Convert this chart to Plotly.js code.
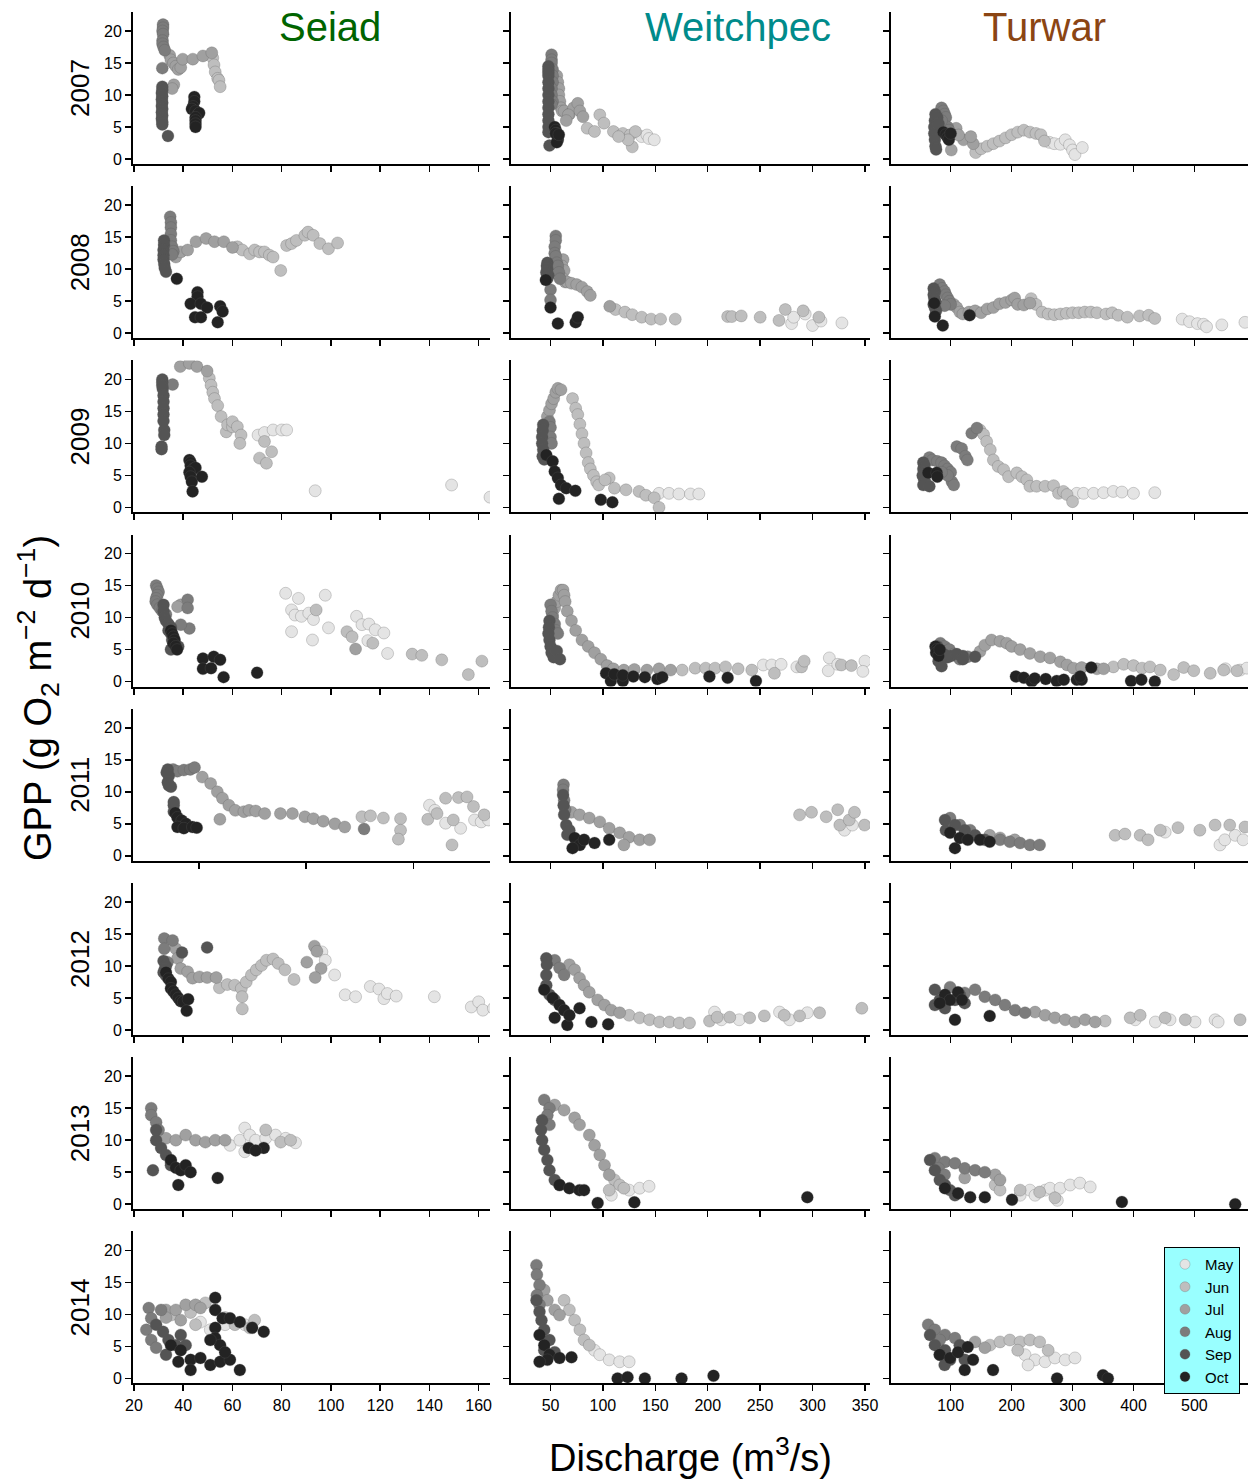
<!DOCTYPE html>
<html><head><meta charset="utf-8">
<script src="https://cdn.plot.ly/plotly-3.0.1.min.js"></script>
<style>body{margin:0;background:#fff}#plot{width:1248px;height:1481px}</style>
</head><body><div id="plot"></div>
<script>
// ---- Data: each point is [month, discharge (m3/s), GPP (g O2 m-2 d-1)] ----
const sites = ['Seiad','Weitchpec','Turwar'];
const years = ['2007','2008','2009','2010','2011','2012','2013','2014'];
const monthNames = ['May','Jun','Jul','Aug','Sep','Oct'];
const monthNums = [5,6,7,8,9,10];

const seiad2007 = [
[6,52,15.8],[6,52.5,14.7],[6,53,13.6],[6,54,12.6],[6,54.5,12.3],[6,55,11.3],
[7,34.5,16.2],[7,35,15.5],[7,36,15],[7,37,14.5],[7,38,14],[7,39,14.3],[7,39.8,15.6],[7,43.9,15.6],[7,48,16.1],[7,51.6,16.6],[7,36.2,11.6],[7,35.5,11],
[8,31.8,21],[8,31.8,20.5],[8,31.6,20],[8,31.8,19.5],[8,31.6,18.5],[8,31.6,18],[8,32,17.5],[8,32.5,17],[8,31.5,14.2],
[9,31.5,11.3],[9,31.5,10.8],[9,31.3,10.3],[9,31.5,9.8],[9,31.3,9.3],[9,31.5,8.8],[9,31.3,8.3],[9,31.5,7.8],[9,31.3,7.3],[9,31.5,6.8],[9,31.3,6.3],[9,31.5,5.8],[9,31.5,5.4],[9,33.8,3.6],
[10,44.5,9.7],[10,44.5,9],[10,44,8.2],[10,43.5,7.8],[10,45,7.5],[10,46,7],[10,46.5,7.2],[10,45,6.5],[10,45,6],[10,45,5.5],[10,45,5]];
const weitchpec2007 = [
[5,137,3.5],[5,142,3.75],[5,144,3.2],[5,149,3.0],
[6,97,6.9],[6,85,4.8],[6,92,4.3],[6,101,5.6],[6,110,4.3],[6,119,4],[6,126,3.75],[6,131,4.3],[6,128,1.9],[6,124,3.0],[6,115,3.5],
[7,56,13],[7,57,12],[7,58,11],[7,58,10],[7,59,9],[7,60,8],[7,61,7.5],[7,63,7.5],[7,68,7],[7,72,8],[7,76,8.7],[7,78,7.5],[7,67,6.9],[7,81,6.6],[7,65,6],
[8,51,16.3],[8,51,15.5],[8,51,15],[8,52,14],[8,52,13],[8,52,12],[8,51,11],[8,51,10],[8,52,9],[8,51,8.5],
[9,48,14.5],[9,48,14],[9,48,13.5],[9,48,13],[9,48,12],[9,48,11],[9,48,10],[9,48,9],[9,48,8],[9,48,7],[9,48,6],[9,48,5],[9,48,4.2],[9,49,2.1],
[10,54,5],[10,55,4.5],[10,56,4],[10,57,3.5],[10,57,3],[10,56,2.6],[10,55,4],[10,58,3.8]];
const turwar2007 = [
[5,262,2.6],[5,270,2.4],[5,280,2.3],[5,288,3.0],[5,295,2.2],[5,300,1.4],[5,304,0.7],[5,316,1.8],
[6,141,1.0],[6,150,1.6],[6,160,2.0],[6,170,2.4],[6,180,2.8],[6,190,3.3],[6,200,3.8],[6,210,4.2],[6,220,4.5],[6,230,4.2],[6,240,4],[6,248,3.8],[6,254,2.8],
[7,109,4.8],[7,101,1.4],[7,121,3],[7,137,2.4],[7,113,3.75],[7,133,3.5],
[8,85,8],[8,88,7.5],[8,90,7],[8,92,6.5],[8,95,5],[8,97,4.5],[8,85,6],[8,90,4],
[9,75,7],[9,74,6],[9,73,5],[9,73,4],[9,74,3],[9,75,2],[9,76,1.5],[9,78,6.5],[9,80,5.5],
[10,88,4.2],[10,92,3.8],[10,95,3.4],[10,97,3.0],[10,100,4]];

const seiad2008 = [
[6,62,13.5],[6,64,13],[6,67,12.4],[6,69,13],[6,71,12.7],[6,73,12.7],[6,75,12.2],[6,76.5,11.9],[6,79.6,9.8],[6,82,13.7],[6,84,14],[6,86,14.5],[6,89.4,15.3],[6,90.7,15.8],[6,92.8,15.3],[6,95.5,14],[6,99,13.2],[6,102.7,14.1],
[7,37,11.9],[7,39,12.7],[7,41.8,13],[7,45.2,14.3],[7,49.3,14.8],[7,52.7,14.3],[7,56.5,14.3],[7,60,13.4],
[8,34.7,18.2],[8,35,17.3],[8,35,16.5],[8,35,15.5],[8,35,14.5],[8,35.5,13.5],[8,36,12.8],[8,35.5,12.3],
[9,32.2,14.5],[9,32.2,13.8],[9,32,13],[9,32,12.2],[9,32,11.5],[9,32.3,10.8],[9,32.5,10.2],[9,33,9.6],
[10,37.4,8.5],[10,45.8,6.4],[10,45.8,5.7],[10,43,4.6],[10,47.2,4.6],[10,49.7,4.0],[10,44.8,2.5],[10,47.2,2.5],[10,54,1.7],[10,55,4.2],[10,56,3.4]];
const weitchpec2008 = [
[5,280,1.5],[5,282,2.5],[5,293,3.0],[5,300,1.2],[5,308,1.9],[5,328,1.6],
[6,112,3.7],[6,121,3.3],[6,128,2.9],[6,137,2.5],[6,146,2.2],[6,155,2.2],[6,169,2.2],[6,219,2.6],[6,223,2.6],[6,232,2.7],[6,250,2.5],[6,268,2.0],[6,274,3.7],[6,291,3.5],[6,306,2.5],
[7,62,11.5],[7,61,10.5],[7,63,9.8],[7,62,8.5],[7,64,8],[7,66,8],[7,70,7.8],[7,75,7.6],[7,80,7.2],[7,85,6.5],[7,88,5.9],[7,106.5,4.2],
[8,55,15.2],[8,55,14.5],[8,54,13.5],[8,54,12.5],[8,55,12],[8,56,11],[8,57,10.5],[8,58,9.5],[8,59,8.5],[8,50,6.8],[8,50,5.2],
[9,47,11],[9,46.5,10.5],[9,47,10],[9,46,9.5],[9,48,9],[9,47,8.5],
[10,45.5,8.3],[10,50,4.0],[10,57,1.5],[10,74,1.7],[10,76,2.5]];
const turwar2008 = [
[5,480,2.2],[5,492,1.8],[5,505,1.5],[5,515,1.4],[5,520,1.0],[5,545,1.3],[5,583,1.7],
[6,232,5.4],[6,240,4.5],[6,250,3.3],[6,260,3.0],[6,270,2.9],[6,280,3.0],[6,290,3.1],[6,300,3.2],[6,310,3.2],[6,320,3.3],[6,330,3.3],[6,340,3.2],[6,355,3.0],[6,365,3.2],[6,375,2.8],[6,390,2.5],[6,410,2.7],[6,425,2.8],[6,435,2.3],
[7,105,4.5],[7,110,4],[7,115,3.3],[7,120,3],[7,130,3.3],[7,140,3.5],[7,150,3.2],[7,160,3.8],[7,170,4],[7,180,4.6],[7,190,4.8],[7,200,5.2],[7,205,5.5],[7,210,4.5],[7,220,4.4],[7,230,4.7],
[8,82,7.6],[8,86,7],[8,90,6.5],[8,92,6],[8,95,5.5],[8,98,5],[8,100,4.5],[8,90,4.3],
[9,72,7],[9,74,6.5],[9,72,6],[9,73,5.5],[9,75,5],[9,72,4.5],[9,74,4],[9,76,3.5],
[10,73,4.7],[10,74,2.6],[10,87,1.2],[10,131,2.8]];

const seiad2009 = [
[5,70.4,11.3],[5,73,11.7],[5,76.5,12.1],[5,80,12.1],[5,82,12.1],[5,93.6,2.6],[5,149,3.5],[5,164.6,1.6],
[6,50.6,20.2],[6,51.3,19.1],[6,52,18],[6,52.7,17],[6,54,15.9],[6,55.4,14.2],[6,57.5,11.8],[6,58,12.9],[6,60,12.6],[6,60,13.4],[6,62,12.6],[6,63.5,11.3],[6,63,10],[6,73,10.3],[6,75.9,8.7],[6,71,7.7],[6,73.8,6.9],
[7,38.8,22],[7,42.5,22.5],[7,45.6,22],[7,49.7,21.3],
[8,35.7,19.2],
[9,31.5,20],[9,31.5,19.5],[9,31.5,19],[9,31.7,18.5],[9,32,17.5],[9,32,16.5],[9,32,15.5],[9,32,14.5],[9,32,13.5],[9,32.3,12.1],[9,32.3,11.3],[9,31.2,9.5],[9,31.2,9.1],
[10,42.5,7.4],[10,43,7],[10,43,6.5],[10,44,6],[10,45,6.2],[10,42.5,5.5],[10,43,4.8],[10,43.5,4.0],[10,47.6,4.8],[10,43.8,2.5]];
const weitchpec2009 = [
[5,153.5,2.2],[5,163,2.2],[5,172.5,2.1],[5,183.5,2.1],[5,191.5,2.1],
[6,71,17],[6,74,15.5],[6,76,14.5],[6,78,13],[6,80,11.5],[6,82,10],[6,84,8.5],[6,86,7],[6,88,6],[6,91,5],[6,94,4],[6,96,3.5],[6,106,4.6],[6,102,4.3],[6,111,3.0],[6,122,2.75],[6,134.5,2.5],[6,141,1.9],[6,149,1.5],[6,153.5,0],
[7,47,14.2],[7,49,15.2],[7,51,16.2],[7,53,17],[7,55,18],[7,57,18.6],[7,60,18.4],
[8,49,13.4],[8,50,12.5],[8,50,11],[8,51,10],
[9,43,12.9],[9,42.5,12],[9,42,11],[9,42,10],[9,43,9],[9,42.5,8],[9,44,7.5],
[10,46,8.2],[10,52,7.2],[10,54,5.6],[10,57,4.6],[10,60,3.5],[10,65,3.0],[10,73.7,2.6],[10,58,1.35],[10,98,1.2],[10,109,0.8]];
const turwar2009 = [
[5,307,2.2],[5,318,2.2],[5,334.5,2.2],[5,351,2.3],[5,367,2.5],[5,381,2.4],[5,400,2.2],[5,435,2.3],
[6,148,12.1],[6,154,11.4],[6,159,10.3],[6,165,9.0],[6,170,7.4],[6,178,6.4],[6,187,5.9],[6,195,4.8],[6,208.5,5.4],[6,217,4.8],[6,225,4.3],[6,230,3.3],[6,241,3.3],[6,255,3.3],[6,269,3.4],[6,277,2.2],[6,285,2.5],[6,291,2.0],[6,300,0.9],
[8,65,7.8],[8,70,7.4],[8,78,7.2],[8,85,7],[8,90,6.5],[8,95,6],[8,100,5.5],[8,102,4.0],[8,105,3.5],[8,95,5],[8,85,5.5],[8,110,9.5],[8,118,9.2],[8,124,8.0],[8,127.4,7.4],[8,134.5,11.6],[8,143,12.4],
[9,55,7],[9,57,6.5],[9,55,6],[9,58,5.5],[9,54,5],[9,56,4.5],[9,58,4],[9,55,3.5],[9,65,3.3],
[10,63,5.4],[10,77,5.4],[10,78,4.8]];

const seiad2010 = [
[5,81.6,13.8],[5,86.8,13.0],[5,84,11.2],[5,85.4,10.4],[5,88,10.2],[5,91,10.7],[5,92.9,9.7],[5,97.7,13.5],[5,99,8.4],[5,84,7.8],[5,92.5,6.5],[5,110.4,10.2],[5,112.6,8.9],[5,115.4,9.0],[5,118,8.1],[5,121.5,7.6],[5,115,6.4],[5,123,4.4],
[6,94,11.2],[6,106.5,7.8],[6,108.6,7.0],[6,117,6.0],[6,133,4.3],[6,136.9,4.1],[6,145,3.4],[6,155.8,1.1],[6,161.3,3.2],
[7,110,5.1],[7,39,12],[7,37.7,11.7],
[8,29,15],[8,29.5,14.5],[8,30,14],[8,29.5,13.5],[8,29,13],[8,28.8,12.5],[8,29.5,12],[8,30.5,11.5],[8,31.5,11],[8,33,10.5],[8,41.8,12.8],[8,41.8,11.5],[8,42.5,8.3],[8,39,8.9],
[9,32,12],[9,32,11],[9,32.5,10],[9,33,9.5],[9,34,9],[9,35,8.5],[9,34,8],[9,35,7.5],[9,35.5,6.5],[9,36,6],[9,35,5],[9,38,5.5],
[10,35,8],[10,35.5,7.5],[10,36,7],[10,36.5,6.5],[10,36,6],[10,37,5.5],[10,37.5,5],[10,48,3.6],[10,48,2.0],[10,51.3,2.1],[10,52.4,3.9],[10,55,3.4],[10,56.4,0.7],[10,70,1.4]];
const weitchpec2010 = [
[5,253,2.6],[5,261,2.6],[5,270,2.7],[5,285,2.3],[5,316,3.7],[5,315,1.7],[5,350,3.2],[5,348,1.6],[5,324,2.7],
[6,175.6,1.8],[6,188,2.1],[6,198,2.1],[6,207,2.1],[6,217,2.3],[6,229,2.0],[6,242,1.8],[6,263.6,1.3],[6,289.5,2.3],[6,292,3.2],[6,327.5,2.6],[6,337,2.5],
[7,52,10.4],[7,54,11.5],[7,56,12.5],[7,58,13.5],[7,60,14.3],[7,62,14.3],[7,63,13.5],[7,64,12.5],[7,66,11],[7,70,9.5],[7,74,8],[7,80,6.5],[7,86,5.5],[7,92,4.5],[7,98,3.5],[7,104,2.5],[7,110,2],[7,120,1.8],[7,130,1.9],[7,142,1.8],[7,153.5,2.0],[7,164.6,1.8],
[8,50,12],[8,51,11],[8,52,10],[8,54,9],[8,55,8],[8,57,7.5],
[9,49,9.5],[9,48.5,8.5],[9,48,7.5],[9,49,6.5],[9,50,5.5],[9,51,4.5],[9,53,3.8],[9,56,4.8],[9,59,3.5],
[10,103,1.3],[10,107.6,0.1],[10,110.8,1.15],[10,119,0.1],[10,119,1.0],[10,129,0.8],[10,140,0.7],[10,152,0.4],[10,156.6,0.7],[10,201.6,0.8],[10,219,0.6],[10,246,0.1]];
const turwar2010 = [
[5,551,2.0],[5,575,1.8],[5,586,2.1],
[6,367,2.3],[6,384,2.7],[6,400,2.5],[6,414,2.1],[6,427,2.3],[6,444,1.8],[6,466,1.1],[6,482.5,2.2],[6,499,1.7],[6,526,1.3],[6,548,1.8],[6,570,1.7],
[7,148,4.7],[7,156,5.7],[7,167,6.5],[7,181,6.3],[7,192,6.0],[7,200,5.5],[7,214,5.0],[7,230,4.4],[7,247,3.9],[7,263,3.7],[7,280,3.1],[7,291,2.6],[7,301.6,2.1],[7,315,2.2],[7,340,2.0],[7,351,2.0],
[8,83,6],[8,90,5.5],[8,98,5],[8,105,4.3],[8,110,4],[8,115,3.5],[8,122,3.7],[8,128,3.9],
[9,78,5.5],[9,82,4.8],[9,85,4.5],[9,90,4.2],[9,95,3.8],[9,100,4.0],[9,110,4.3],[9,120,4.0],[9,120,3.5],[9,80,3.2],[9,85,2.4],[9,140,3.9],
[10,75,5.5],[10,77,5],[10,76,4.5],[10,80,4],[10,82,5],[10,207,0.8],[10,220,0.6],[10,233,0],[10,238,0.5],[10,256,0.4],[10,274,0.1],[10,285.7,0.3],[10,307,0.3],[10,315,0.3],[10,312.6,0.8],[10,330.7,2.2],[10,396,0.1],[10,413,0.3],[10,435,0]];

const seiad2011 = [
[5,157.5,7.9],[5,165,5.1],[5,172,4.3],[5,178.5,5.6],[5,181.6,5.3],[5,185,5.6],[5,160,7.1],
[6,126,6.1],[6,130,6.25],[6,136,5.9],[6,144,5.8],[6,144,4.0],[6,143,2.6],[6,156.7,5.7],[6,165,9.0],[6,171,9.1],[6,175,9.2],[6,168,1.7],[6,161,6.6],[6,168.6,5.6],[6,178,7.7],[6,183,6.4],
[7,51.6,12.3],[7,55.5,11.3],[7,58.6,10],[7,61,9],[7,64,7.9],[7,67,7.1],[7,71,6.9],[7,73.4,7.1],[7,76.5,7.0],[7,80.7,6.6],[7,88,6.6],[7,93.6,6.6],[7,99.4,6.1],[7,103.4,5.8],[7,108,5.4],[7,113.4,5.0],[7,118,4.5],[7,59.8,5.7],
[8,38,13.5],[8,40,13.2],[8,43,13.4],[8,46,13.5],[8,48,13.8],[8,127,4.2],
[9,35.5,13.5],[9,35,13],[9,36,12.5],[9,35.5,11.5],[9,36,11],[9,37,10.8],[9,38.3,8.4],[9,38.3,7.9],[9,38.3,6.9],
[10,39,6.7],[10,40,6],[10,42,5.5],[10,44,5],[10,40,4.5],[10,43,4.3],[10,47,4.5],[10,49,4.4]];
const weitchpec2011 = [
[5,330.5,4.0],[5,338,4.8],
[6,287.6,6.4],[6,299,6.8],[6,313,6.1],[6,326,4.8],[6,335,5.6],[6,324,7.2],[6,349.6,4.8],[6,340,6.8],
[7,70,6.8],[7,77.7,6.4],[7,87,5.9],[7,97,5.3],[7,106,4.3],[7,116,3.6],[7,125,2.9],[7,135,2.5],[7,144.5,2.5],[7,120,1.7],
[8,62.4,11.1],[8,62,10.3],[8,63,8.7],[8,64,7.2],
[9,62,9.5],[9,62.5,7.9],[9,63,6.4],[9,65,4.8],[9,66,3.3],[9,68,4.0],
[10,73,2.8],[10,78,1.7],[10,71,1.2],[10,82,2.5],[10,92,2.0],[10,106,2.5]];
const turwar2011 = [
[5,452,3.7],[5,542,1.7],[5,550,2.5],[5,567,3.2],[5,580,2.5],
[6,370,3.2],[6,386,3.4],[6,411,3.2],[6,424,2.5],[6,444,4.0],[6,473,4.4],[6,509,4.0],[6,534,4.8],[6,558,4.8],[6,583,4.5],
[7,164,3.2],[7,181,2.8],[7,205,2.5],
[8,99,5.9],[8,115,4.8],[8,132,4.0],[8,181,2.5],[8,197,2.2],[8,214,2.0],[8,230,1.7],[8,246,1.7],
[9,90.6,5.6],[9,92,4.0],[9,107,4.8],[9,123,4.0],[9,140,3.2],[9,156,2.5],
[10,99,3.6],[10,107,1.2],[10,115,2.8],[10,128,2.5],[10,148,2.5],[10,164,2.2]];

const seiad2012 = [
[5,96.3,12.2],[5,97.7,10.9],[5,101.5,8.6],[5,105.8,5.5],[5,110,5.2],[5,116,6.8],[5,119.5,6.4],[5,121.5,4.9],[5,122.9,5.7],[5,126.5,5.3],[5,142,5.2],[5,157,3.6],[5,160,4.4],[5,161.7,3.1],[5,166,3.4],
[6,54.7,6.6],[6,57.9,7.1],[6,60.9,7.0],[6,63.6,6.5],[6,63.9,5.2],[6,64,3.3],[6,65.6,7.5],[6,67.7,8.6],[6,69.7,9.4],[6,71.8,10.1],[6,73.8,10.9],[6,76.5,11.1],[6,78.6,10.4],[6,81.3,9.4],[6,85,7.9],
[7,37,12.7],[7,37.7,11.2],[7,39,9.6],[7,41.8,9.1],[7,43.8,8.1],[7,46.6,8.3],[7,49.7,8.2],[7,53.4,8.2],[7,90.2,10.6],[7,93.3,13.1],[7,94.3,12.3],[7,96,9.6],[7,93.6,8.2],
[8,32.3,14.3],[8,35.7,14.0],[8,32.3,12.7],[8,33.6,10.6],
[9,32,10.8],[9,33,10],[9,32.5,9.5],[9,32,9],[9,33,8.5],[9,49.7,12.9],[9,39.5,12.1],
[10,33,9],[10,34,8],[10,35,7.5],[10,35,6.5],[10,36,6],[10,37,5.5],[10,38,5],[10,39,4.5],[10,40,4.4],[10,42,4.8],[10,41.4,3.0]];
const weitchpec2012 = [
[5,206.5,2.8],[5,213,1.6],[5,230,1.6],[5,268.5,2.8],[5,295,2.7],[5,278,1.6],
[6,125,2.3],[6,135,1.9],[6,144.5,1.6],[6,154,1.25],[6,163.5,1.25],[6,173,1.1],[6,182.6,1.1],[6,201.7,1.4],[6,209,2.0],[6,221,2.0],[6,240,1.9],[6,254,2.2],[6,273,2.3],[6,287.6,2.2],[6,306.7,2.7],[6,347,3.4],
[7,68,10.2],[7,73,9.4],[7,77.7,8.1],[7,82,7.0],[7,87,5.9],[7,95,4.7],[7,101.5,3.9],[7,108,3.1],[7,116,2.7],
[8,54,10.9],[8,58.6,9.7],[8,63,8.6],
[9,46,11.2],[9,46.5,10.2],[9,46,8.6],[9,46,7.0],[9,49,5.5],[9,54,4.7],
[10,44,6.3],[10,52,5.0],[10,58.6,3.9],[10,63,3.1],[10,66,0.8],[10,68,2.3],[10,77.7,3.4],[10,89,1.25],[10,105,0.9],[10,54,1.9]];
const turwar2012 = [
[5,403,1.6],[5,436,1.25],[5,460,1.6],[5,501,1.25],[5,534,1.6],[5,539,1.25],
[6,353.5,1.4],[6,394.6,1.9],[6,411,2.3],[6,452,1.9],[6,485,1.6],[6,575,1.6],
[7,238.5,2.8],[7,255,2.3],[7,271,1.9],[7,288,1.6],[7,304,1.25],[7,320.6,1.6],[7,337,1.25],
[8,99,6.7],[8,123,5.8],[8,140,6.3],[8,156,5.2],[8,173,4.7],[8,189,3.9],[8,205.6,3.1],[8,222,2.7],
[9,74,6.3],[9,82,4.7],[9,74,3.9],[9,90.6,3.4],[9,107,4.7],[9,115,5.5],[9,123,4.2],
[10,90.6,5.5],[10,99,4.7],[10,112,5.9],[10,107,1.6],[10,164,2.2],[10,82,4.2],[10,118.5,4.7]];

const seiad2013 = [
[5,59,9.2],[5,63,10.0],[5,65,11.9],[5,67,10.8],[5,69.4,10.0],[5,65,8.2],[5,73.5,10.3],[5,77.5,10.8],[5,81.6,10.3],[5,85.6,9.6],
[6,73.5,11.6],[6,79.6,9.7],[6,83.6,10.0],
[7,33,10.3],[7,37,10.0],[7,41,10.8],[7,45,10.0],[7,49,9.7],[7,53,10.0],[7,57,10.0],
[8,27,15],[8,27,13.9],[8,29,12.8],[8,30,11.6],
[9,29,11.6],[9,29,10.0],[9,31,8.8],[9,33,7.7],[9,35,6.6],[9,27.7,5.3],[9,35,6.1],
[10,35,6.9],[10,37,5.7],[10,39,5.3],[10,38,3.0],[10,41,6.1],[10,43,5.0],[10,54,4.1],[10,66.6,8.8],[10,72.7,8.8],[10,69.4,8.4]];
const weitchpec2013 = [
[5,125,2.2],[5,135,2.5],[5,144,2.8],[5,108,1.4],
[6,111,3.8],[6,116,3.0],[6,106,2.2],[6,120,2.5],
[7,54,15.5],[7,63,14.7],[7,73,13.5],[7,77.7,12.4],[7,87,10.8],[7,92,9.2],[7,97,7.7],[7,101.5,6.1],[7,106,4.6],
[8,44,16.3],[8,49,15.0],[8,47,13.9],[8,49,12.4],
[9,42,13.1],[9,41,11.6],[9,42,10.0],[9,44,8.5],[9,47,6.9],[9,49,5.3],[9,54,3.8],[9,58.6,3.0],
[10,58.6,3.0],[10,68,2.5],[10,77.7,2.2],[10,82,2.2],[10,95,0.2],[10,130,0.3],[10,295,1.1]];
const turwar2013 = [
[5,214,1.4],[5,230,2.2],[5,255,2.2],[5,275,0.6],[5,238.5,1.4],[5,263,2.5],[5,279.5,2.5],[5,296,3.0],[5,312,3.3],[5,329,2.7],
[6,173,3.0],[6,181,2.2],[6,214,2.2],[6,246,1.9],[6,271,1.0],
[7,173,4.6],[7,181,3.8],[7,123,4.1],
[8,74,7.2],[8,90.6,6.6],[8,107,6.4],[8,123,5.6],[8,140,5.3],[8,156,5.0],[8,80,5.6],[8,90,4.6],
[9,66,6.9],[9,74,5.3],[9,82,3.8],[9,90.6,3.0],[9,99,2.2],[9,107,1.4],
[10,90.6,2.5],[10,112,1.7],[10,132,1.1],[10,156,1.1],[10,200.6,0.7],[10,381,0.35],[10,567,0]];

const seiad2014 = [
[5,47,8.8],[5,51,7.6],[5,57,8.4],[5,65,8.4],
[6,35,9.9],[6,43,10.3],[6,49,11.8],[6,53,10.7],[6,57,9.5],[6,61,8.4],[6,67,7.9],[6,69,9.1],[6,45,8.4],
[7,33,10.7],[7,37,10.7],[7,41,11.5],[7,45,11.5],[7,47,11.0],[7,39,9.1],[7,33,9.5],
[8,26,11.0],[8,27,9.4],[8,25,7.6],[8,27,6.0],[8,29,4.8],[8,31,10.7],
[9,29,8.4],[9,31.8,7.3],[9,34,6.0],[9,37,5.2],[9,33,3.7],[9,39,6.8],[9,41,5.2],
[10,35,5.2],[10,39,4.4],[10,38,2.6],[10,43,2.9],[10,47,3.2],[10,51,2.1],[10,55,2.6],[10,59,2.9],[10,63,1.3],[10,43,1.3],[10,53,12.6],[10,53,10.7],[10,53,7.9],[10,53,6.3],[10,56,9.4],[10,59,9.4],[10,63,8.8],[10,68,7.9],[10,72.7,7.3],[10,55,5.2],[10,51,6.0],[10,57,4.1]];
const weitchpec2014 = [
[5,92,4.4],[5,97,3.7],[5,106,2.9],[5,116,2.6],[5,125,2.6],
[6,63,12.2],[6,68,10.7],[6,73,9.1],[6,78,7.6],[6,82,6.0],[6,87,5.2],
[7,44,13.8],[7,47,12.2],[7,54,10.7],[7,58.6,9.9],
[8,36.6,17.7],[8,37,16.2],[8,39.5,14.6],[8,37,13.0],[8,39.5,11.5],
[9,36.6,12.2],[9,39.5,10.4],[9,41.4,9.1],[9,44,7.6],[9,49,6.0],[9,44,4.4],[9,54,4.1],
[10,39.5,6.8],[10,44,5.2],[10,49,3.7],[10,47,2.9],[10,39.5,2.6],[10,58.6,3.2],[10,70,3.3],[10,114,0],[10,123.5,0.2],[10,140,0],[10,175,0],[10,205.5,0.4]];
const turwar2014 = [
[5,222,3.7],[5,238.5,2.9],[5,255,2.6],[5,271,3.2],[5,288,2.9],[5,304,3.2],[5,227,2.1],
[6,164.5,5.2],[6,181,5.7],[6,197,6.0],[6,214,5.7],[6,230,6.0],[6,246,5.7],[6,260,4.4],[6,210,4.4],
[7,140,5.7],[7,156,4.8],[7,115,5.2],
[8,63,8.4],[8,74,7.6],[8,90.6,6.8],[8,107,6.3],[8,82,6.0],
[9,66,6.8],[9,74,5.2],[9,82,3.7],[9,90.6,4.4],[9,99,2.9],[9,115,5.2],[9,123,2.9],[9,90,2.1],
[10,82,3.7],[10,99,3.2],[10,112,4.1],[10,128,4.9],[10,136.6,2.9],[10,123,1.3],[10,169.5,1.3],[10,274.6,0],[10,350,0.5],[10,358,0]];

const seiadTicks = [20,40,60,80,100,120,140,160];
const seiad2011Ticks = [50,100,150];
const weitchpecTicks = [50,100,150,200,250,300,350];
const turwarTicks = [100,200,300,400,500];
const gppTicks = [0,5,10,15,20];

// ---- Layout / styling ----
const panels = [
 [seiad2007, weitchpec2007, turwar2007],
 [seiad2008, weitchpec2008, turwar2008],
 [seiad2009, weitchpec2009, turwar2009],
 [seiad2010, weitchpec2010, turwar2010],
 [seiad2011, weitchpec2011, turwar2011],
 [seiad2012, weitchpec2012, turwar2012],
 [seiad2013, weitchpec2013, turwar2013],
 [seiad2014, weitchpec2014, turwar2014]];

const W = 1248, H = 1481;
const FONT = 'Liberation Sans, Arial, Helvetica, sans-serif';
const monthColor = {5:'#E4E4E4',6:'#BEBEBE',7:'#A0A0A0',8:'#7C7C7C',9:'#545454',10:'#232323'};
const colPx = [[133,490],[511,870],[891,1248]];
const xRanges = [[19.6,164.6],[12.3,354.8],[2,588]];
const colTicks = [seiadTicks, weitchpecTicks, turwarTicks];
const yRange = [-0.78, 22.97];
const rowPitch = 174.2, rowTop0 = 12, rowBot0 = 164;
const siteColors = ['#006400','#008B8B','#8B4513'];
const siteTitleX = [330, 738, 1044];

const traces = [];
const layout = {
  width: W, height: H, margin:{l:0,r:0,t:0,b:0},
  paper_bgcolor:'#fff', plot_bgcolor:'rgba(0,0,0,0)',
  font:{family:FONT, color:'#000', size:16},
  showlegend:true,
  legend:{x:1240/W, y:1-1247/H, xanchor:'right', yanchor:'top', bgcolor:'#99FFFF',
          bordercolor:'#000', borderwidth:1, font:{family:FONT,size:15,color:'#000'},
          tracegroupgap:0, itemwidth:30},
  annotations:[]
};

for (let r=0;r<8;r++){
  for (let c=0;c<3;c++){
    const idx = r*3+c+1;
    const xa = 'xaxis'+(idx===1?'':idx), ya = 'yaxis'+(idx===1?'':idx);
    const xr = 'x'+(idx===1?'':idx), yr = 'y'+(idx===1?'':idx);
    const special = (r===4 && c===0);
    layout[xa] = {
      domain:[colPx[c][0]/W, colPx[c][1]/W], anchor: yr,
      range: special ? [19.3,185.7] : xRanges[c],
      tickmode:'array', tickvals: special ? seiad2011Ticks : colTicks[c],
      showticklabels: r===7, ticks:'outside', ticklen:6, tickwidth:1.5, tickcolor:'#000',
      showline:true, linecolor:'#000', linewidth:2, showgrid:false, zeroline:false,
      tickfont:{size:16, family:FONT, color:'#000'}, fixedrange:true
    };
    layout[ya] = {
      domain:[1-(rowBot0+r*rowPitch)/H, 1-(rowTop0+r*rowPitch)/H], anchor: xr,
      range: yRange, tickmode:'array', tickvals: gppTicks,
      showticklabels: c===0, ticks:'outside', ticklen:6, tickwidth:1.5, tickcolor:'#000',
      showline:true, linecolor:'#000', linewidth:2, showgrid:false, zeroline:false,
      tickfont:{size:16, family:FONT, color:'#000'}, fixedrange:true
    };
    const pts = panels[r][c];
    monthNums.forEach(m=>{
      const sel = pts.filter(p=>p[0]===m);
      if (!sel.length) return;
      traces.push({type:'scatter', mode:'markers', xaxis:xr, yaxis:yr, showlegend:false,
        x: sel.map(p=>p[1]), y: sel.map(p=>p[2]), hoverinfo:'skip',
        marker:{size:12, color:monthColor[m], line:{width:0.8, color:'rgba(90,90,90,0.35)'}}});
    });
  }
  layout.annotations.push({text:years[r], xref:'paper', yref:'paper', x:80/W,
    y:1-((rowTop0+rowBot0)/2 + r*rowPitch)/H, textangle:-90, showarrow:false,
    xanchor:'center', yanchor:'middle', font:{size:26, family:FONT, color:'#000'}});
}
sites.forEach((s,i)=>{
  layout.annotations.push({text:s, xref:'paper', yref:'paper', x:siteTitleX[i]/W, y:1-27/H,
    showarrow:false, xanchor:'center', yanchor:'middle', font:{size:40, family:FONT, color:siteColors[i]}});
});
layout.annotations.push({text:'GPP (g O<sub>2</sub> m<sup>\u22122</sup> d<sup>\u22121</sup>)', xref:'paper', yref:'paper',
  x:38/W, y:1-698/H, textangle:-90, showarrow:false, xanchor:'center', yanchor:'middle',
  font:{size:38, family:FONT, color:'#000'}});
layout.annotations.push({text:'Discharge (m<sup>3</sup>/s)', xref:'paper', yref:'paper',
  x:690/W, y:1-1455/H, showarrow:false, xanchor:'center', yanchor:'middle',
  font:{size:38, family:FONT, color:'#000'}});

// legend entries
monthNums.forEach((m,i)=>{
  traces.push({type:'scatter', mode:'markers', x:[null], y:[null], xaxis:'x', yaxis:'y',
    name: monthNames[i], showlegend:true, hoverinfo:'skip',
    marker:{size:10, color:monthColor[m], line:{width:0.8, color:'rgba(90,90,90,0.35)'}}});
});

Plotly.newPlot('plot', traces, layout, {staticPlot:true, displayModeBar:false});
</script>
</body></html>
